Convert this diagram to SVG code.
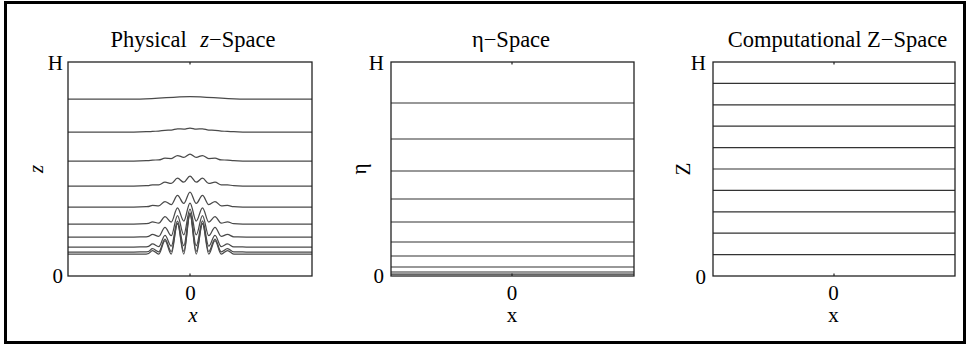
<svg xmlns="http://www.w3.org/2000/svg" width="970" height="345" viewBox="0 0 970 345">
<style>
text{font-family:"Liberation Serif","Times New Roman",serif;fill:#000}
.t{font-size:22.5px;text-anchor:middle}
.k{font-size:21px}
.e{text-anchor:end}
.m{text-anchor:middle}
.frame{fill:none;stroke:#222;stroke-width:1.3}
.w{fill:none;stroke:#4a4a4a;stroke-width:1.25}
.g{fill:none;stroke:#333;stroke-width:1.2}
.tick{stroke:#222;stroke-width:1.2}
</style>
<rect x="5.5" y="2.5" width="959" height="340" fill="#fff" stroke="#000" stroke-width="3"/>

<g id="panel-physical">
<text class="t" x="193" y="47">Physical <tspan dx="8" font-style="italic">z</tspan>−Space</text>
<text class="k e" x="63" y="70">H</text>
<text class="k e" x="63" y="283">0</text>
<text class="k m" x="190.5" y="300">0</text>
<text class="k m" x="193" y="322" font-style="italic">x</text>
<text class="k m" transform="translate(43,169) rotate(-90)" font-style="italic">z</text>
<g>
<path class="w" d="M68,99 H140 C160,99 172,96.5 190,96.5 S220,99 240,99 H312"/>
<path class="w" d="M68,132 H133.75 C138.25,132 141.75,131.7 146.25,131.7 S150.25,131.4 152.5,131.4 S156.5,131.1 158.75,131.1 S162.75,130.3 165,130.3 S169,130.1 171.25,130.1 S175.25,128.8 177.5,128.8 S181.5,129.1 183.75,129.1 S187.75,128 190,128 S194,129.1 196.25,129.1 S200.25,128.8 202.5,128.8 S206.5,130.1 208.75,130.1 S212.75,130.3 215,130.3 S219,131.1 221.25,131.1 S225.25,131.4 227.5,131.4 S231.5,131.7 233.75,131.7 S241.75,132 246.25,132 H312"/>
<path class="w" d="M68,161 H133.75 C138.25,161 141.75,160.7 146.25,160.7 S150.25,160.1 152.5,160.1 S156.5,159.9 158.75,159.9 S162.75,158.2 165,158.2 S169,158.5 171.25,158.5 S175.25,155.5 177.5,155.5 S181.5,157.3 183.75,157.3 S187.75,154 190,154 S194,157.3 196.25,157.3 S200.25,155.5 202.5,155.5 S206.5,158.5 208.75,158.5 S212.75,158.2 215,158.2 S219,159.9 221.25,159.9 S225.25,160.1 227.5,160.1 S231.5,160.7 233.75,160.7 S241.75,161 246.25,161 H312"/>
<path class="w" d="M68,186 H133.75 C138.25,186 141.75,185.7 146.25,185.7 S150.25,184.8 152.5,184.8 S156.5,184.9 158.75,184.9 S162.75,182.2 165,182.2 S169,183.4 171.25,183.4 S175.25,178.2 177.5,178.2 S181.5,182.2 183.75,182.2 S187.75,176 190,176 S194,182.2 196.25,182.2 S200.25,178.2 202.5,178.2 S206.5,183.4 208.75,183.4 S212.75,182.2 215,182.2 S219,184.9 221.25,184.9 S225.25,184.8 227.5,184.8 S231.5,185.7 233.75,185.7 S241.75,186 246.25,186 H312"/>
<path class="w" d="M68,207 H133.75 C138.25,207 141.75,206.7 146.25,206.7 S150.25,205.4 152.5,205.4 S156.5,205.9 158.75,205.9 S162.75,201.5 165,201.5 S169,204.6 171.25,204.6 S175.25,195.4 177.5,195.4 S181.5,203.4 183.75,203.4 S187.75,192 190,192 S194,203.4 196.25,203.4 S200.25,195.4 202.5,195.4 S206.5,204.6 208.75,204.6 S212.75,201.5 215,201.5 S219,205.9 221.25,205.9 S225.25,205.4 227.5,205.4 S231.5,206.7 233.75,206.7 S241.75,207 246.25,207 H312"/>
<path class="w" d="M68,224 H133.75 C138.25,224 141.75,223.7 146.25,223.7 S150.25,221.9 152.5,221.9 S156.5,223.1 158.75,223.1 S162.75,216.6 165,216.6 S169,222 171.25,222 S175.25,207.8 177.5,207.8 S181.5,221 183.75,221 S187.75,203 190,203 S194,221 196.25,221 S200.25,207.8 202.5,207.8 S206.5,222 208.75,222 S212.75,216.6 215,216.6 S219,223.1 221.25,223.1 S225.25,221.9 227.5,221.9 S231.5,223.7 233.75,223.7 S241.75,224 246.25,224 H312"/>
<path class="w" d="M68,237 H133.75 C138.25,237 141.75,236.8 146.25,236.8 S150.25,234.4 152.5,234.4 S156.5,236.4 158.75,236.4 S162.75,227.3 165,227.3 S169,235.6 171.25,235.6 S175.25,215.5 177.5,215.5 S181.5,234.9 183.75,234.9 S187.75,209 190,209 S194,234.9 196.25,234.9 S200.25,215.5 202.5,215.5 S206.5,235.6 208.75,235.6 S212.75,227.3 215,227.3 S219,236.4 221.25,236.4 S225.25,234.4 227.5,234.4 S231.5,236.8 233.75,236.8 S241.75,237 246.25,237 H312"/>
<path class="w" d="M68,247 H133.75 C138.25,247 141.75,246.9 146.25,246.9 S150.25,243.9 152.5,243.9 S156.5,246.6 158.75,246.6 S162.75,235.4 165,235.4 S169,246.1 171.25,246.1 S175.25,221 177.5,221 S181.5,245.7 183.75,245.7 S187.75,213 190,213 S194,245.7 196.25,245.7 S200.25,221 202.5,221 S206.5,246.1 208.75,246.1 S212.75,235.4 215,235.4 S219,246.6 221.25,246.6 S225.25,243.9 227.5,243.9 S231.5,246.9 233.75,246.9 S241.75,247 246.25,247 H312"/>
<path class="w" d="M68,252 H133.75 C138.25,252 141.75,251.9 146.25,251.9 S150.25,248.6 152.5,248.6 S156.5,251.8 158.75,251.8 S162.75,239.1 165,239.1 S169,251.5 171.25,251.5 S175.25,223 177.5,223 S181.5,251.3 183.75,251.3 S187.75,214 190,214 S194,251.3 196.25,251.3 S200.25,223 202.5,223 S206.5,251.5 208.75,251.5 S212.75,239.1 215,239.1 S219,251.8 221.25,251.8 S225.25,248.6 227.5,248.6 S231.5,251.9 233.75,251.9 S241.75,252 246.25,252 H312"/>
<path class="w" d="M68,254 H133.75 C138.25,254 141.75,254 146.25,254 S150.25,250.5 152.5,250.5 S156.5,254 158.75,254 S162.75,240.5 165,240.5 S169,254 171.25,254 S175.25,223.5 177.5,223.5 S181.5,254 183.75,254 S187.75,214 190,214 S194,254 196.25,254 S200.25,223.5 202.5,223.5 S206.5,254 208.75,254 S212.75,240.5 215,240.5 S219,254 221.25,254 S225.25,250.5 227.5,250.5 S231.5,254 233.75,254 S241.75,254 246.25,254 H312"/>
</g>
<rect class="frame" x="68" y="62" width="244" height="214"/>
<path class="tick" d="M190,62 v2.5 M190,276 v-2.5"/>
</g>

<g id="panel-eta">
<text class="t" x="511" y="47">η−Space</text>
<text class="k e" x="384" y="70">H</text>
<text class="k e" x="384" y="283">0</text>
<text class="k m" x="512" y="300">0</text>
<text class="k m" x="512" y="322">x</text>
<text class="k m" transform="translate(366,169) rotate(-90)">η</text>
<path class="g" d="M391,103 H634 M391,139 H634 M391,171 H634 M391,199 H634 M391,222 H634 M391,242 H634 M391,256 H634 M391,267 H634 M391,272 H634 M391,274.2 H634"/>
<rect class="frame" x="391" y="62" width="243" height="214"/>
<path class="tick" d="M512,62 v2.5 M512,276 v-2.5"/>
</g>

<g id="panel-computational">
<text class="t" x="837.5" y="47">Computational Z−Space</text>
<text class="k e" x="706" y="70">H</text>
<text class="k e" x="706" y="284">0</text>
<text class="k m" x="833.5" y="300">0</text>
<text class="k m" x="833.5" y="322">x</text>
<text class="k m" transform="translate(690,169) rotate(-90)">Z</text>
<path class="g" d="M713,83.4 H955 M713,104.8 H955 M713,126.2 H955 M713,147.6 H955 M713,169 H955 M713,190.4 H955 M713,211.8 H955 M713,233.2 H955 M713,254.6 H955"/>
<rect class="frame" x="713" y="62" width="242" height="214"/>
<path class="tick" d="M834,62 v2.5 M834,276 v-2.5"/>
</g>
</svg>
